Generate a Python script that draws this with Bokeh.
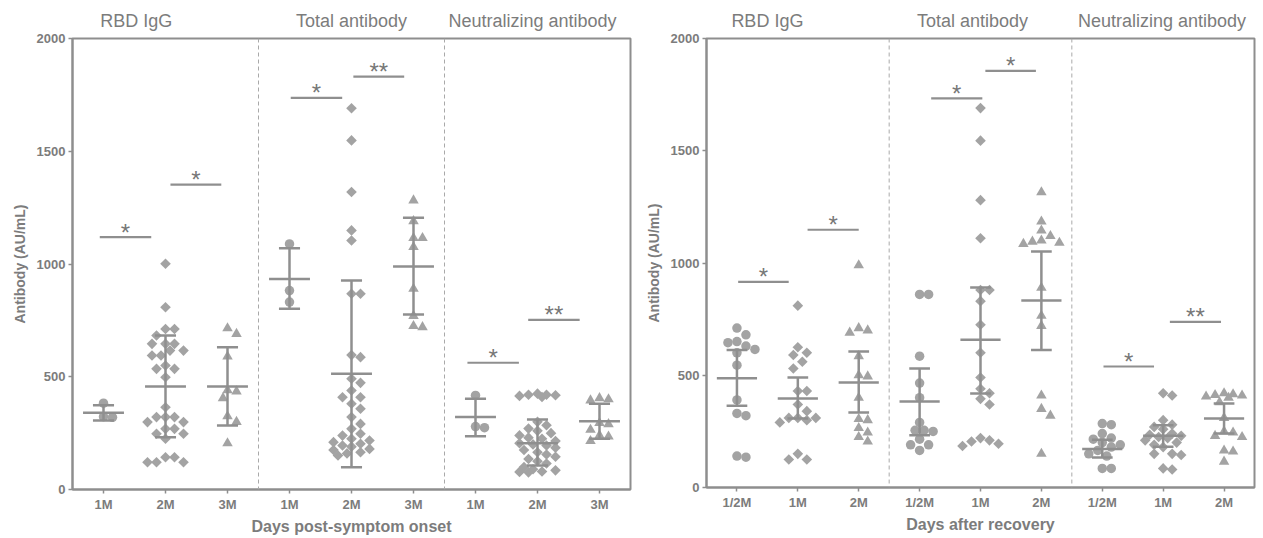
import numpy as np
from bokeh.plotting import figure
from bokeh.layouts import row
from bokeh.models import FixedTicker, Range1d, Span, LinearAxis
from bokeh.embed import file_html
from bokeh.resources import INLINE
from bokeh.core.properties import value

# ---------------- data ----------------
group_names = ["RBD IgG", "Total antibody", "Neutralizing antibody"]
left_times = ["1M", "2M", "3M"]
right_times = ["1/2M", "1M", "2M"]

# Left panel: days post-symptom onset
L_rbd_1m = [383, 323, 320]
L_rbd_2m = [1001, 808, 712, 712, 683, 646, 646, 646, 616, 616, 594, 594, 550, 535, 535, 498,
            365, 321, 321, 321, 299, 299, 269, 269, 247, 247, 225, 143, 143, 121, 121, 121]
L_rbd_3m = [715, 690, 590, 440, 435, 405, 325, 300, 205]
L_tot_1m = [1089, 882, 831]
L_tot_2m = [1691, 1548, 1319, 1149, 1104, 868, 868, 596, 587, 491, 473, 439, 409, 409, 380, 358,
            321, 291, 269, 247, 239, 225, 217, 210, 203, 195, 190, 180, 175, 165, 160, 151]
L_tot_3m = [1282, 1190, 1115, 1115, 1075, 890, 770, 725, 720]
L_neu_1m = [417, 279, 274]
L_neu_2m = [425, 420, 420, 418, 415, 410, 300, 285, 270, 260, 250, 240, 230, 225, 215, 205,
            200, 195, 185, 175, 165, 155, 145, 135, 125, 115, 100, 90, 85, 80, 78, 76]
L_neu_3m = [405, 400, 395, 295, 290, 265, 240, 235, 215]

L_mean = [340, 457, 457, 934, 513, 989, 321, 205, 303]
L_low = [306, 232, 284, 801, 99, 776, 236, 106, 225]
L_high = [374, 683, 631, 1070, 927, 1205, 402, 310, 380]

L_sig_x0 = [0.94, 2.08, 4.02, 5.03, 6.87, 7.85]
L_sig_x1 = [1.77, 2.90, 4.85, 5.85, 7.70, 8.68]
L_sig_y = [1119, 1352, 1737, 1831, 562, 752]
L_sig_lab = ["*", "*", "*", "**", "*", "**"]

# Right panel: days after recovery
R_rbd_half = [710, 680, 650, 645, 630, 615, 600, 545, 390, 330, 320, 140, 135]
R_rbd_1m = [810, 625, 600, 590, 560, 530, 430, 430, 370, 340, 310, 310, 310, 300, 290, 150, 125, 125]
R_rbd_2m = [990, 710, 700, 690, 585, 500, 495, 400, 305, 300, 265, 245, 225, 205]
R_tot_half = [860, 860, 585, 465, 400, 290, 255, 255, 250, 215, 190, 190, 165]
R_tot_1m = [1690, 1545, 1280, 1110, 880, 880, 830, 725, 600, 490, 440, 420, 395, 370, 220, 210, 205, 195, 185]
R_tot_2m = [1315, 1185, 1145, 1120, 1100, 1095, 1090, 1085, 890, 765, 720, 410, 350, 320, 150]
R_neu_half = [285, 280, 240, 220, 215, 200, 190, 180, 165, 150, 140, 85, 85]
R_neu_1m = [420, 410, 300, 280, 270, 260, 240, 235, 230, 225, 220, 210, 200, 190, 180, 150, 150, 145, 85, 80]
R_neu_2m = [420, 415, 412, 410, 405, 400, 380, 310, 250, 245, 230, 225, 165, 160, 115]

R_mean = [487, 396, 468, 383, 658, 833, 171, 230, 307]
R_low = [364, 307, 334, 233, 419, 612, 134, 181, 240]
R_high = [613, 490, 606, 530, 891, 1051, 213, 277, 374]

R_sig_x0 = [1.02, 2.16, 4.19, 5.08, 7.02, 8.11]
R_sig_x1 = [1.85, 3.00, 5.03, 5.91, 7.85, 8.95]
R_sig_y = [916, 1148, 1733, 1856, 539, 738]
R_sig_lab = ["*", "*", "*", "*", "*", "**"]

# ---------------- style ----------------
FONT = "Liberation Sans"
TXT = "#7c7c7c"
PT = "#a3a3a3"
LN = "#8f8f8f"
AX = "#8e8e8e"


def swarm_offsets(vals, ppu_y, ppu_x, d, max_px):
    """Deterministic beeswarm spread in screen pixels, capped to +-max_px."""
    vals = np.asarray(vals, float)
    order = np.argsort(-vals, kind="stable")
    placed = []
    offs = np.zeros(len(vals))
    step = d * 0.5
    cands = [0.0]
    j = 1
    while j * step <= max_px:
        cands += [j * step, -j * step]
        j += 1
    for i in order:
        yy = vals[i] * ppu_y
        best, best_d = 0.0, -1.0
        for c in cands:
            md = min([((c - px) ** 2 + (yy - py) ** 2) for px, py in placed] or [1e9])
            if md >= d * d * 0.9:
                best = c
                break
            if md > best_d:
                best, best_d = c, md
        placed.append((best, yy))
        offs[i] = best / ppu_x
    return offs


def build_panel(series, means, lows, highs, sx0, sx1, sy, slab, times, title_pos, xlabel,
                fw, fh, bl, br, bt, bb):
    p = figure(frame_width=fw, frame_height=fh, x_range=Range1d(0.5, 9.5), y_range=Range1d(0, 2000),
               output_backend="svg", toolbar_location=None,
               min_border_left=bl, min_border_right=br, min_border_top=bt, min_border_bottom=bb,
               x_axis_label=xlabel, y_axis_label="Antibody (AU/mL)")
    p.xgrid.visible = False
    p.ygrid.visible = False
    p.outline_line_color = AX
    p.outline_line_width = 2
    p.background_fill_color = "white"
    p.border_fill_color = "white"

    for ax in (p.xaxis[0], p.yaxis[0]):
        ax.axis_line_color = AX
        ax.axis_line_width = 2
        ax.major_tick_line_color = AX
        ax.major_tick_line_width = 1.5
        ax.major_tick_out = 4
        ax.major_tick_in = 0
        ax.minor_tick_line_color = None
        ax.major_label_text_font = FONT
        ax.major_label_text_font_style = "bold"
        ax.major_label_text_font_size = "13px"
        ax.major_label_text_color = TXT
        ax.major_label_standoff = 3
        ax.axis_label_text_font = FONT
        ax.axis_label_text_font_style = "bold"
        ax.axis_label_text_color = TXT

    p.xaxis.ticker = FixedTicker(ticks=list(range(1, 10)))
    p.xaxis.major_label_overrides = {i + 1: t for i, t in enumerate(times * 3)}
    p.xaxis.axis_label_text_font_size = "16px"
    p.xaxis.axis_label_standoff = 3
    p.yaxis.ticker = FixedTicker(ticks=[0, 500, 1000, 1500, 2000])
    p.yaxis.axis_label_text_font_size = "14px"
    p.yaxis.axis_label_standoff = 6

    top = LinearAxis(ticker=FixedTicker(ticks=title_pos),
                     major_label_overrides={tp: g for tp, g in zip(title_pos, group_names)},
                     axis_line_color=None, major_tick_line_color=None, minor_tick_line_color=None,
                     major_tick_out=0, major_tick_in=0,
                     major_label_text_font=FONT, major_label_text_font_size="18px",
                     major_label_text_color=TXT, major_label_standoff=8)
    p.add_layout(top, "above")

    for loc in (3.5, 6.5):
        p.add_layout(Span(location=loc, dimension="height", line_color="#a9a9a9",
                          line_dash="4 3", line_width=1))

    ppu_y = fh / 2000.0
    ppu_x = fw / 9.0
    markers = ["circle", "square", "triangle"]
    sizes = [9.5, 7.5, 10.5]
    angles = [0, np.pi / 4, 0]
    for i, vals in enumerate(series):
        k = i % 3
        offs = swarm_offsets(vals, ppu_y, ppu_x, 9.0, 21.0)
        xs = (i + 1) + offs
        p.scatter(x=xs, y=vals, marker=markers[k], size=sizes[k], angle=angles[k],
                  fill_color=PT, line_color=None)

    xc = np.arange(1, 10, dtype=float)
    means = np.asarray(means, float)
    lows = np.asarray(lows, float)
    highs = np.asarray(highs, float)
    p.segment(x0=xc, x1=xc, y0=lows, y1=highs, line_color=LN, line_width=2.5)
    p.segment(x0=xc - 0.33, x1=xc + 0.33, y0=means, y1=means, line_color=LN, line_width=2.5)
    p.segment(x0=xc - 0.17, x1=xc + 0.17, y0=highs, y1=highs, line_color=LN, line_width=2.5)
    p.segment(x0=xc - 0.17, x1=xc + 0.17, y0=lows, y1=lows, line_color=LN, line_width=2.5)

    sx0 = np.asarray(sx0, float)
    sx1 = np.asarray(sx1, float)
    p.segment(x0=sx0, x1=sx1, y0=sy, y1=sy, line_color=LN, line_width=2.2)
    p.text(x=(sx0 + sx1) / 2, y=sy, text=slab, text_align="center", text_baseline="alphabetic",
           y_offset=-5, text_font=value(FONT), text_font_size="24px", text_color="#777777")
    return p


left = build_panel([L_rbd_1m, L_rbd_2m, L_rbd_3m, L_tot_1m, L_tot_2m, L_tot_3m, L_neu_1m, L_neu_2m, L_neu_3m],
                   L_mean, L_low, L_high, L_sig_x0, L_sig_x1, L_sig_y, L_sig_lab, left_times,
                   [1.53, 5.0, 7.92], "Days post-symptom onset",
                   fw=558, fh=451, bl=72, br=10, bt=38, bb=47)
right = build_panel([R_rbd_half, R_rbd_1m, R_rbd_2m, R_tot_half, R_tot_1m, R_tot_2m, R_neu_half, R_neu_1m, R_neu_2m],
                    R_mean, R_low, R_high, R_sig_x0, R_sig_x1, R_sig_y, R_sig_lab, right_times,
                    [1.5, 4.87, 7.98], "Days after recovery",
                    fw=548, fh=449, bl=66, br=8, bt=36, bb=51)

layout = row(left, right)
open("out.html", "w").write(file_html(layout, INLINE))
